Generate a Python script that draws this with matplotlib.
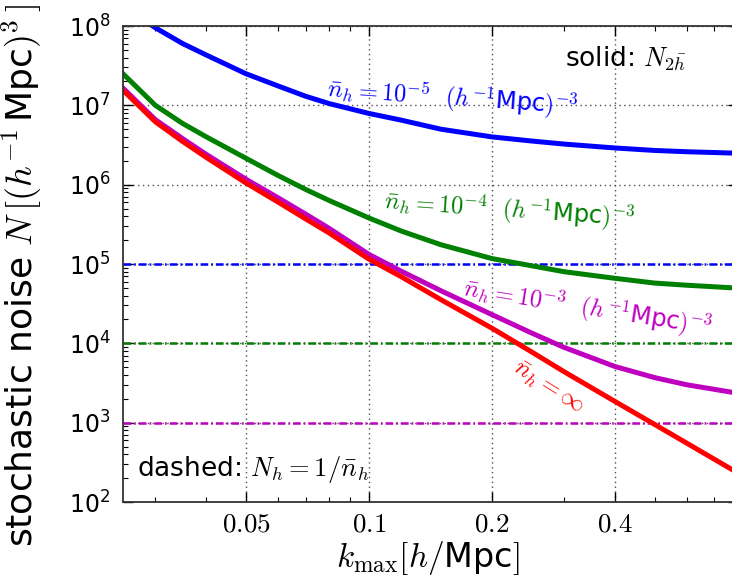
import numpy as np
import matplotlib
matplotlib.use('Agg')
import matplotlib.pyplot as plt
from matplotlib.ticker import NullFormatter

plt.rcParams['mathtext.fontset'] = 'cm'
plt.rcParams['lines.scale_dashes'] = False

# k_max sampling [h/Mpc]
kmax = [0.025, 0.03, 0.035, 0.04, 0.05, 0.06, 0.07, 0.08, 0.1, 0.12,
        0.15, 0.2, 0.25, 0.3, 0.4, 0.5, 0.6, 0.78]

# stochastic noise N_2h for each halo number density
N_inf = [1.55e7, 6.2e6, 3.5e6, 2.2e6, 1.05e6, 6.0e5, 3.7e5, 2.45e5, 1.15e5, 6.9e4,
         3.55e4, 1.55e4, 7.8e3, 4.4e3, 1.85e3, 9.5e2, 5.5e2, 2.5e2]
N_1e3 = [1.65e7, 6.6e6, 3.8e6, 2.4e6, 1.17e6, 6.8e5, 4.25e5, 2.8e5, 1.32e5, 8.1e4,
         4.6e4, 2.3e4, 1.35e4, 8.9e3, 5.1e3, 3.7e3, 3.0e3, 2.4e3]
N_1e4 = [2.5e7, 1.0e7, 5.9e6, 4.0e6, 2.15e6, 1.3e6, 8.7e5, 6.3e5, 3.8e5, 2.6e5,
         1.75e5, 1.17e5, 9.5e4, 8.0e4, 6.6e4, 5.75e4, 5.4e4, 5.0e4]
N_1e5 = [1.8e8, 9.5e7, 6.0e7, 4.3e7, 2.5e7, 1.75e7, 1.3e7, 1.05e7, 7.9e6, 6.5e6,
         5.0e6, 4.0e6, 3.55e6, 3.25e6, 2.9e6, 2.7e6, 2.6e6, 2.5e6]

# Poisson level 1/nbar
nbar = [1e-5, 1e-4, 1e-3]

xticks = [0.05, 0.1, 0.2, 0.4]
xticklabels = ['$0.05$', '$0.1$', '$0.2$', '$0.4$']

blue = (0, 0, 1)
green = (0, 0.5, 0)
magenta = (0.75, 0, 0.75)
red = (1, 0, 0)

fig = plt.figure(figsize=(7.32, 5.82), dpi=100)
ax = fig.add_axes([123 / 732, 80 / 582, 615 / 732, 476 / 582])

for n, c in zip(nbar, [blue, green, magenta]):
    ax.axhline(1.0 / n, color=c, lw=1.8, ls=(0, (5.5, 2.2, 1.2, 2.2)))

ax.plot(kmax, N_1e5, color=blue, lw=3.6)
ax.plot(kmax, N_1e4, color=green, lw=3.6)
ax.plot(kmax, N_1e3, color=magenta, lw=3.6)
ax.plot(kmax, N_inf, color=red, lw=3.6)

ax.set_xscale('log')
ax.set_yscale('log')
ax.set_xlim(0.025, 0.8)
ax.set_ylim(1e2, 1e8)

ax.set_xticks(xticks)
ax.set_xticklabels(xticklabels, fontsize=19.5)
ax.xaxis.set_minor_formatter(NullFormatter())
ax.tick_params(axis='y', labelsize=17)
ax.tick_params(which='both', direction='in', top=True, right=True)
ax.tick_params(which='major', length=7, width=1)
ax.tick_params(which='minor', length=3.5, width=0.8)
ax.tick_params(axis='x', pad=7)
ax.tick_params(axis='y', pad=9)
ax.grid(True, which='major', color='0.3', ls=(0, (1, 2.5)), lw=1.0)
for s in ax.spines.values():
    s.set_linewidth(1.3)
    s.set_color('0.2')

ax.set_xlabel(r'$k_{\rm max}[h/$Mpc$]$', fontsize=24)
ax.xaxis.set_label_coords(0.496, -0.078)
ax.set_ylabel(r'stochastic noise $N\,[(h^{-1}\,$Mpc$)^3\,]$', fontsize=26)
ax.yaxis.set_label_coords(-0.128, 0.475)

ax.text(0.16, 1.25e7, r'$\bar{n}_h=10^{-5}$  $(h^{-1}$Mpc$)^{-3}$', color=blue,
        fontsize=17.5, ha='center', va='center', rotation=-4)
ax.text(0.221, 4.8e5, r'$\bar{n}_h=10^{-4}$  $(h^{-1}$Mpc$)^{-3}$', color=green,
        fontsize=17.5, ha='center', va='center', rotation=-4)
ax.text(0.343, 2.75e4, r'$\bar{n}_h=10^{-3}$  $(h^{-1}$Mpc$)^{-3}$', color=magenta,
        fontsize=17.5, ha='center', va='center', rotation=-9)
ax.text(0.274, 2.75e3, r'$\bar{n}_h=\infty$', color=red,
        fontsize=17.5, ha='center', va='center', rotation=-32)

ax.text(0.719, 0.914, r'solid: $N_{2\bar{h}}$', transform=ax.transAxes,
        fontsize=19, ha='left', va='baseline')
ax.text(0.023, 0.055, r'dashed: $N_h=1/\bar{n}_h$', transform=ax.transAxes,
        fontsize=19, ha='left', va='baseline')

fig.savefig('out.png', dpi=100)
